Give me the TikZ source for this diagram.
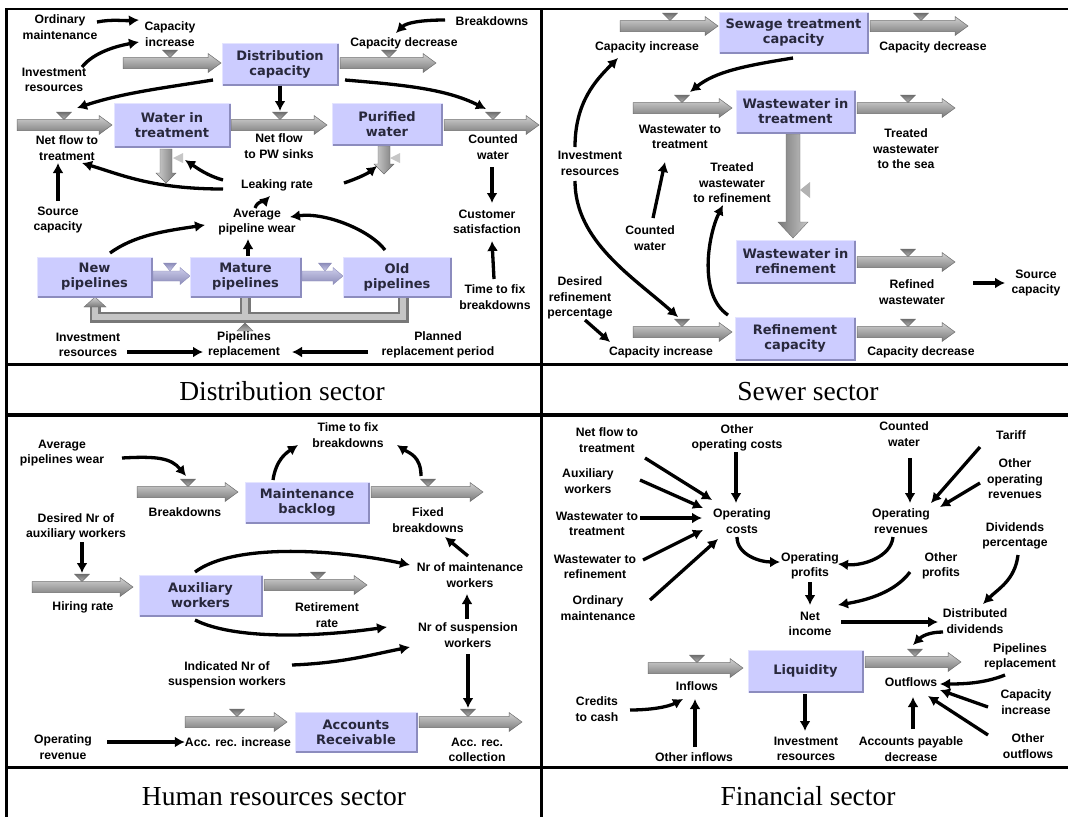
\documentclass[tikz,border=0pt]{standalone}
\usepackage{fontspec}
\setmainfont{Liberation Serif}
\newfontfamily\labfont{Liberation Sans}
\newfontfamily\stockfont{DejaVu Sans}
\usetikzlibrary{arrows.meta}
\definecolor{stockfill}{RGB}{204,204,255}
\definecolor{stockedge}{RGB}{228,228,255}
\definecolor{stockdark}{RGB}{140,140,190}
\definecolor{stocktext}{RGB}{40,40,60}
\definecolor{pipeA}{RGB}{210,210,210}
\definecolor{pipeM}{RGB}{168,168,168}
\definecolor{pipeB}{RGB}{120,120,120}
\definecolor{pipeC}{RGB}{110,110,110}
\definecolor{valveA}{RGB}{110,110,110}
\definecolor{valveB}{RGB}{180,180,180}
\definecolor{ageA}{RGB}{205,205,235}
\definecolor{ageB}{RGB}{140,140,185}
\newcommand\flowpipe[5]{%
  \shade[top color=pipeA, middle color=pipeM, bottom color=pipeB, draw=pipeC, line width=0.5pt]
    (#1,#3-5.5) -- (#2-13,#3-5.5) -- (#2-13,#3-9.5) -- (#2,#3) -- (#2-13,#3+9.5) -- (#2-13,#3+5.5) -- (#1,#3+5.5) -- cycle;
  \shade[top color=valveA, bottom color=valveB, draw=pipeC, line width=0.4pt]
    (#4-7.5,#3-13) -- (#4+7.5,#3-13) -- (#4,#3-5.5) -- cycle;
  \coordinate (#5) at (#4,#3-14);
}
\newcommand\agepipe[4]{%
  \shade[top color=ageA, bottom color=ageB, draw=ageB, line width=0.4pt]
    (#1,#3-5) -- (#2-10,#3-5) -- (#2-10,#3-8.5) -- (#2,#3) -- (#2-10,#3+8.5) -- (#2-10,#3+5) -- (#1,#3+5) -- cycle;
  \shade[top color=ageB, bottom color=ageA, draw=ageB, line width=0.4pt]
    (#4-6.5,#3-13) -- (#4+6.5,#3-13) -- (#4,#3-5) -- cycle;
}
\begin{document}
\begin{tikzpicture}[x=1pt,y=-1pt,
  lbl/.style={font=\labfont\bfseries\fontsize{12.2}{15.5}\selectfont, align=center, inner sep=0pt},
  stock/.style={rectangle, fill=stockfill, draw=stockedge, line width=1pt,
    font=\stockfont\bfseries\fontsize{13}{15}\selectfont, text=stocktext, align=center, inner sep=0pt},
  sectitle/.style={font=\fontsize{27.5}{32}\selectfont, inner sep=0pt, anchor=base},
  conn/.style={line width=3.3pt, -{Latex[length=10pt,width=11pt]}},
  divider/.style={line width=3.5pt}]
\fill[white] (0,0) rectangle (1068,817);
\useasboundingbox (0,0) rectangle (1068,817);

% ---------- frame ----------
\draw[line width=2pt] (5,9) -- (1068,9);
\draw[line width=2.5pt] (6.5,8) -- (6.5,817);
\draw[divider] (541.5,8) -- (541.5,817);
\draw[divider] (5,364.5) -- (1068,364.5);
\draw[divider] (5,415) -- (1068,415);
\draw[divider] (5,767.5) -- (1068,767.5);
\node[sectitle] (t1) at (282,400) {Distribution sector};
\node[sectitle] (t2) at (808,400) {Sewer sector};
\node[sectitle] (t3) at (274,805) {Human resources sector};
\node[sectitle] (t4) at (808,805) {Financial sector};

% ---------- flows: distribution ----------
\flowpipe{123}{221}{63}{170}{v-ci}
\flowpipe{340}{436}{63}{389}{v-cd}
\flowpipe{17}{112}{125}{64}{v-nft}
\flowpipe{231}{327}{125}{280}{v-pws}
\flowpipe{444}{539}{125}{493}{v-cw}
\agepipe{153}{190}{276}{170}
\agepipe{302}{343}{276}{325}
% leaks
\shade[left color=pipeA, right color=pipeB, draw=pipeC, line width=0.4pt]
  (160,149) -- (172,149) -- (172,173) -- (176,173) -- (166,183) -- (156,173) -- (160,173) -- cycle;
\fill[gray!45] (173,158) -- (183,153) -- (183,163) -- cycle;
\coordinate (v-wtl) at (185,160);
\shade[left color=pipeA, right color=pipeB, draw=pipeC, line width=0.4pt]
  (378,146) -- (390,146) -- (390,164) -- (394,164) -- (384,174) -- (374,164) -- (378,164) -- cycle;
\fill[gray!45] (390,158) -- (400,153) -- (400,163) -- cycle;
\coordinate (v-pwl) at (377,166);
% replacement pipe
\draw[line width=11pt, pipeB, line join=miter] (403,297) |- (95,317) -- (95,306);
\draw[line width=11pt, pipeB] (245,297) -- (245,317);
\draw[line width=6pt, pipeA!70!pipeM, line join=miter] (403,297) |- (95,317) -- (95,306);
\draw[line width=6pt, pipeA!70!pipeM] (245,297) -- (245,314);
\shade[top color=pipeA, bottom color=pipeB, draw=pipeC, line width=0.4pt] (84,307) -- (106,307) -- (95,297) -- cycle;
\shade[top color=valveA, bottom color=valveB, draw=pipeC, line width=0.4pt] (237,331) -- (253,331) -- (245,323) -- cycle;

% ---------- flows: sewer ----------
\flowpipe{620}{718}{26}{670}{v-ci2}
\flowpipe{870}{968}{26}{921}{v-cd2}
\flowpipe{633}{732}{108}{682}{v-wtt}
\flowpipe{857}{955}{108}{908}{v-tws}
\flowpipe{857}{955}{262}{908}{v-rw}
\flowpipe{633}{732}{332}{682}{v-ci3}
\flowpipe{857}{955}{332}{908}{v-cd3}
\shade[left color=gray!95!black, right color=gray!45, draw=pipeC, line width=0.4pt]
  (786,134) -- (800,134) -- (800,222) -- (808,222) -- (793,238) -- (778,222) -- (786,222) -- cycle;
\fill[gray!60] (800,190) -- (810,182) -- (810,198) -- cycle;

% ---------- flows: human resources ----------
\flowpipe{137}{238}{492}{188}{v-bdf}
\flowpipe{371}{483}{492}{428}{v-fb}
\flowpipe{32}{133}{587}{82}{v-hr}
\flowpipe{264}{367}{585}{318}{v-rr}
\flowpipe{185}{287}{722}{237}{v-ari}
\flowpipe{419}{522}{722}{468}{v-arc}

% ---------- flows: financial ----------
\flowpipe{648}{743}{668}{697}{v-inf}
\flowpipe{865}{961}{662}{915}{v-outf}

% ---------- stocks ----------
\node[stock, minimum width=116pt, minimum height=42pt] (dc) at (280,64) {Distribution\\capacity};
\node[stock, minimum width=116pt, minimum height=44pt] (wt) at (172,125.5) {Water in\\treatment};
\node[stock, minimum width=110pt, minimum height=42pt] (pw) at (387,124) {Purified\\water};
\node[stock, minimum width=115pt, minimum height=40pt] (np) at (94.5,277) {New\\pipelines};
\node[stock, minimum width=111pt, minimum height=40pt] (mp) at (245.5,277) {Mature\\pipelines};
\node[stock, minimum width=108pt, minimum height=40pt] (op) at (397,277) {Old\\pipelines};
\node[stock, minimum width=149pt, minimum height=41pt] (stc) at (793.5,32.5) {Sewage treatment\\capacity};
\node[stock, minimum width=119pt, minimum height=43pt] (wwt) at (795.5,111.5) {Wastewater in\\treatment};
\node[stock, minimum width=119pt, minimum height=43pt] (wwr) at (795.5,261.5) {Wastewater in\\refinement};
\node[stock, minimum width=120pt, minimum height=43pt] (rc) at (795,338.5) {Refinement\\capacity};
\node[stock, minimum width=124pt, minimum height=41pt] (mb) at (307,502.5) {Maintenance\\backlog};
\node[stock, minimum width=123pt, minimum height=41pt] (aw) at (200.5,595.5) {Auxiliary\\workers};
\node[stock, minimum width=122pt, minimum height=40pt] (ar) at (356,732) {Accounts\\Receivable};
\node[stock, minimum width=115pt, minimum height=42pt] (liq) at (805.5,671) {Liquidity};
\foreach \n in {dc,wt,pw,np,mp,op,stc,wwt,wwr,rc,mb,aw,ar,liq}
  \draw[stockdark, line width=2pt] ([shift={(-1,1)}]\n.north east) -- ([shift={(-1,-1)}]\n.south east) -- ([shift={(1,-1)}]\n.south west);

% ---------- labels: distribution ----------
\node[lbl] (om) at (60,27) {Ordinary\\maintenance};
\node[lbl] (ir1) at (54,80) {Investment\\resources};
\node[lbl] (cil) at (170,34) {Capacity\\increase};
\node[lbl] (bd) at (492,21) {Breakdowns};
\node[lbl] (cdl) at (404,43) {Capacity decrease};
\node[lbl] (nftl) at (67,148) {Net flow to\\treatment};
\node[lbl] (pwsl) at (279,146) {Net flow\\to PW sinks};
\node[lbl] (cwl) at (493,147) {Counted\\water};
\node[lbl] (lr) at (277,185) {Leaking rate};
\node[lbl] (apw) at (257,222) {Average\\pipeline wear};
\node[lbl] (sc) at (58,220) {Source\\capacity};
\node[lbl] (cs) at (487,222) {Customer\\satisfaction};
\node[lbl] (tfb) at (495,297) {Time to fix\\breakdowns};
\node[lbl] (ir2) at (88,345) {Investment\\resources};
\node[lbl] (prl) at (244,345) {Pipelines\\replacement};
\node[lbl] (prp) at (438,345) {Planned\\replacement period};

% ---------- labels: sewer ----------
\node[lbl] (ci2l) at (647,47) {Capacity increase};
\node[lbl] (cd2l) at (933,47) {Capacity decrease};
\node[lbl] (wttl) at (680,137) {Wastewater to\\treatment};
\node[lbl] (twsl) at (906,149) {Treated\\wastewater\\to the sea};
\node[lbl] (ir3) at (590,163.5) {Investment\\resources};
\node[lbl] (twrl) at (732,183) {Treated\\wastewater\\to refinement};
\node[lbl] (cw2) at (650,238) {Counted\\water};
\node[lbl] (rwl) at (912,292) {Refined\\wastewater};
\node[lbl] (sc2) at (1036,283) {Source\\capacity};
\node[lbl] (drp) at (580,298) {Desired\\refinement\\percentage};
\node[lbl] (ci3l) at (661,352) {Capacity increase};
\node[lbl] (cd3l) at (921,352) {Capacity decrease};

% ---------- labels: human resources ----------
\node[lbl] (apw2) at (62,453) {Average\\pipelines wear};
\node[lbl] (tfb2) at (348,435) {Time to fix\\breakdowns};
\node[lbl] (bdl) at (185,512) {Breakdowns};
\node[lbl] (fbl) at (428,520) {Fixed\\breakdowns};
\node[lbl] (dnaw) at (76,527) {Desired Nr of\\auxiliary workers};
\node[lbl] (hrl) at (83,607) {Hiring rate};
\node[lbl] (rrl) at (327,615) {Retirement\\rate};
\node[lbl] (nmw) at (470,575) {Nr of maintenance\\workers};
\node[lbl] (nsw) at (468,635) {Nr of suspension\\workers};
\node[lbl] (insw) at (227,675) {Indicated Nr of\\suspension workers};
\node[lbl] (orv) at (63,747) {Operating\\revenue};
\node[lbl] (aril) at (238,742) {Acc. rec. increase};
\node[lbl] (arcl) at (477,750) {Acc. rec.\\collection};

% ---------- labels: financial ----------
\node[lbl] (nft2) at (607,440) {Net flow to\\treatment};
\node[lbl] (ooc) at (737,438) {Other\\operating costs};
\node[lbl] (aw2) at (588,481) {Auxiliary\\workers};
\node[lbl] (wtt2) at (597,524) {Wastewater to\\treatment};
\node[lbl] (oc) at (742,521) {Operating\\costs};
\node[lbl] (wtr2) at (595,567) {Wastewater to\\refinement};
\node[lbl] (om2) at (598,608) {Ordinary\\maintenance};
\node[lbl] (cw3) at (904,434) {Counted\\water};
\node[lbl] (tar) at (1011,435) {Tariff};
\node[lbl] (oor) at (1015,479) {Other\\operating\\revenues};
\node[lbl] (orev) at (901,521) {Operating\\revenues};
\node[lbl] (dp) at (1015,536) {Dividends\\percentage};
\node[lbl] (opr) at (810,566) {Operating\\profits};
\node[lbl] (othp) at (941,566) {Other\\profits};
\node[lbl] (ni) at (810,624) {Net\\income};
\node[lbl] (dd) at (975,621) {Distributed\\dividends};
\node[lbl] (plr) at (1020,657) {Pipelines\\replacement};
\node[lbl] (cinc) at (1026,702) {Capacity\\increase};
\node[lbl] (oout) at (1028,746) {Other\\outflows};
\node[lbl] (apd) at (911,749) {Accounts payable\\decrease};
\node[lbl] (ir4) at (806,749) {Investment\\resources};
\node[lbl] (c2c) at (597,709) {Credits\\to cash};
\node[lbl] (oinf) at (694,757) {Other inflows};
\node[lbl] (infl) at (697,686) {Inflows};
\node[lbl] (outfl) at (911,682) {Outflows};

% ---------- connectors: distribution ----------
\draw[conn] ([shift={(37,-5)}]om.center) .. controls +(15,-3) and +(-15,1) .. ([shift={(-31,-14)}]cil.center);
\draw[conn] ([shift={(28,-13)}]ir1.center) .. controls +(12,-15) and +(-22,4) .. ([shift={(-31,8)}]cil.center);
\draw[conn] ([shift={(-67,16)}]dc.center) .. controls +(-50,8) and +(45,-15) .. ([shift={(13,-3)}]v-nft.center);
\draw[conn] (dc.south) -- (v-pws);
\draw[conn] ([shift={(65,16)}]dc.center) .. controls +(60,5) and +(-40,-20) .. ([shift={(-7,-2)}]v-cw.center);
\draw[conn] ([shift={(-47,-1)}]bd.center) .. controls +(-25,0) and +(10,-10) .. ([shift={(-8,-10)}]cdl.center);
\draw[conn] ([shift={(0,-19)}]sc.center) -- ([shift={(-9,15)}]nftl.center);
\draw[conn] ([shift={(-54,4)}]lr.center) .. controls +(-70,0) and +(40,12) .. ([shift={(15,15)}]nftl.center);
\draw[conn] ([shift={(-54,-5)}]lr.center) .. controls +(-15,-4) and +(12,8) .. (v-wtl);
\draw[conn] ([shift={(67,-2)}]lr.center) .. controls +(12,-4) and +(-10,8) .. (v-pwl);
\draw[conn] ([shift={(-2,-14)}]apw.center) .. controls +(3,-8) and +(-5,5) .. ([shift={(-7,11)}]lr.center);
\draw[conn] ([shift={(15.5,-24)}]np.center) .. controls +(25,-18) and +(-40,6) .. ([shift={(-52,3)}]apw.center);
\draw[conn] ([shift={(2.5,-21)}]mp.center) -- ([shift={(-9,17)}]apw.center);
\draw[conn] ([shift={(-12,-27)}]op.center) .. controls +(-15,-20) and +(35,-5) .. ([shift={(33,-5)}]apw.center);
\draw[conn] ([shift={(-1,20)}]cwl.center) -- ([shift={(5,-19)}]cs.center);
\draw[conn] ([shift={(-1,-18)}]tfb.center) -- ([shift={(5,19)}]cs.center);
\draw[conn] ([shift={(39,7)}]ir2.center) -- ([shift={(-41,7)}]prl.center);
\draw[conn] ([shift={(-70,7)}]prp.center) -- ([shift={(48,7)}]prl.center);

% ---------- connectors: sewer ----------
\draw[conn] ([shift={(-15,-16.5)}]ir3.center) .. controls +(0,-45) and +(-22,22) .. ([shift={(-29,11)}]ci2l.center);
\draw[conn] ([shift={(-15,17.5)}]ir3.center) .. controls +(0,60) and +(-45,-40) .. ([shift={(-4,-1)}]v-ci3.center);
\draw[conn] ([shift={(-0.5,25.5)}]stc.center) .. controls +(-50,8) and +(25,-20) .. ([shift={(8,-2)}]v-wtt.center);
\draw[conn] ([shift={(3,-20)}]cw2.center) -- ([shift={(-15,25)}]wttl.center);
\draw[conn] ([shift={(-67,-23.5)}]rc.center) .. controls +(-30,-20) and +(-15,30) .. ([shift={(-9,22)}]twrl.center);
\draw[conn] ([shift={(5,22)}]drp.center) -- ([shift={(-51,-10)}]ci3l.center);
\draw[conn] ([shift={(61,-9)}]rwl.center) -- ([shift={(-31,0)}]sc2.center);

% ---------- connectors: human resources ----------
\draw[conn] ([shift={(60,5)}]apw2.center) .. controls +(35,-2) and +(-15,-18) .. ([shift={(-2,-2)}]v-bdf.center);
\draw[conn] ([shift={(-34,-22.5)}]mb.center) .. controls +(3,-20) and +(-12,8) .. ([shift={(-50,10)}]tfb2.center);
\draw[conn] ([shift={(-7,-2)}]v-fb.center) .. controls +(0,-20) and +(12,8) .. ([shift={(49,10)}]tfb2.center);
\draw[conn] ([shift={(-2,-19)}]nmw.center) -- ([shift={(17,17)}]fbl.center);
\draw[conn] ([shift={(6,15)}]dnaw.center) -- (v-hr);
\draw[conn] ([shift={(-5.5,-23.5)}]aw.center) .. controls +(40,-30) and +(-70,-15) .. ([shift={(-60,-10)}]nmw.center);
\draw[conn] ([shift={(-5.5,24.5)}]aw.center) .. controls +(40,20) and +(-70,10) .. ([shift={(-81,-8)}]nsw.center);
\draw[conn] ([shift={(65,-10)}]insw.center) .. controls +(50,-2) and +(-40,8) .. ([shift={(-58,12)}]nsw.center);
\draw[conn] ([shift={(-1,-16)}]nsw.center) -- ([shift={(-3,19)}]nmw.center);
\draw[conn] ([shift={(0,19)}]nsw.center) -- (v-arc);
\draw[conn] ([shift={(44,-5)}]orv.center) -- (aril.west);

% ---------- connectors: financial ----------
\draw[conn] ([shift={(38,18)}]nft2.center) -- ([shift={(-30,-21)}]oc.center);
\draw[conn] ([shift={(-1,14)}]ooc.center) -- ([shift={(-6,-18)}]oc.center);
\draw[conn] ([shift={(52,-1)}]aw2.center) -- ([shift={(-39,-13)}]oc.center);
\draw[conn] ([shift={(43,-6)}]wtt2.center) -- ([shift={(-40,-3)}]oc.center);
\draw[conn] ([shift={(48,-7)}]wtr2.center) -- ([shift={(-39,9)}]oc.center);
\draw[conn] ([shift={(52,-8)}]om2.center) -- ([shift={(-24,18)}]oc.center);
\draw[conn] ([shift={(-5,16)}]oc.center) .. controls +(0,18) and +(-20,0) .. ([shift={(-30,-4)}]opr.center);
\draw[conn] ([shift={(6,24)}]cw3.center) -- ([shift={(9,-18)}]orev.center);
\draw[conn] ([shift={(-31,12)}]tar.center) -- ([shift={(30,-18)}]orev.center);
\draw[conn] ([shift={(-35,4)}]oor.center) -- ([shift={(39,-14)}]orev.center);
\draw[conn] ([shift={(-8,16)}]orev.center) .. controls +(-2,20) and +(25,2) .. ([shift={(28,-2)}]opr.center);
\draw[conn] ([shift={(0,16)}]opr.center) -- ([shift={(0,-19)}]ni.center);
\draw[conn] ([shift={(-31,6)}]othp.center) .. controls +(-15,20) and +(30,-5) .. ([shift={(28,-19)}]ni.center);
\draw[conn] ([shift={(3,19)}]dp.center) .. controls +(-3,25) and +(15,-15) .. ([shift={(8,-17)}]dd.center);
\draw[conn] ([shift={(31,-2)}]ni.center) -- ([shift={(-37,1)}]dd.center);
\draw[conn] ([shift={(-32,11)}]dd.center) .. controls +(-15,0) and +(8,-8) .. ([shift={(-2,-3)}]v-outf.center);
\draw[conn] ([shift={(-15,18)}]plr.center) .. controls +(-20,8) and +(25,0) .. ([shift={(29,2)}]outfl.center);
\draw[conn] ([shift={(-38,5)}]cinc.center) -- ([shift={(29,8)}]outfl.center);
\draw[conn] ([shift={(-40,-11)}]oout.center) -- ([shift={(17,14)}]outfl.center);
\draw[conn] ([shift={(2,-20)}]apd.center) -- ([shift={(2,15)}]outfl.center);
\draw[conn] ([shift={(-0.5,23)}]liq.center) -- ([shift={(-1,-18)}]ir4.center);
\draw[conn] ([shift={(33,1)}]c2c.center) .. controls +(20,0) and +(-15,8) .. ([shift={(-14,13)}]infl.center);
\draw[conn] ([shift={(1,-10)}]oinf.center) -- ([shift={(-2,13)}]infl.center);
\end{tikzpicture}
\end{document}
